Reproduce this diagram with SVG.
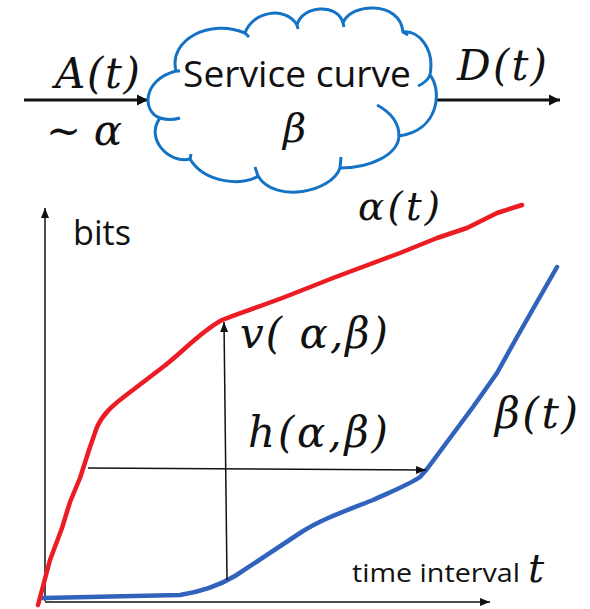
<svg xmlns="http://www.w3.org/2000/svg" width="590" height="609" viewBox="0 0 590 609">
<style>
.math{font-family:"DejaVu Serif","Liberation Serif",serif;font-style:italic;fill:#111}
.sans{font-family:"Open Sans","Noto Sans","Liberation Sans",sans-serif;fill:#111}
.cloud{fill:#fff;stroke:#1473c4;stroke-width:3;stroke-linejoin:round}
.hook{fill:none;stroke:#1473c4;stroke-width:3;stroke-linecap:butt}
.thick{stroke:#111;stroke-width:3;fill:none}
.thin{stroke:#111;stroke-width:1.5;fill:none}
.red{fill:none;stroke:#ec1c24;stroke-width:4.5;stroke-linejoin:round;stroke-linecap:round}
.blue{fill:none;stroke:#3163bc;stroke-width:4.5;stroke-linejoin:round;stroke-linecap:round}
</style>
<defs>
<marker id="ah" markerUnits="userSpaceOnUse" markerWidth="12" markerHeight="12" refX="11" refY="6" orient="auto" viewBox="0 0 12 12">
<path d="M0,0.5 L11,6 L0,11.5 z" fill="#111"/>
</marker>
<marker id="ahs" markerUnits="userSpaceOnUse" markerWidth="10" markerHeight="10" refX="10" refY="5" orient="auto" viewBox="0 0 10 10">
<path d="M0,1 L10,5 L0,9 z" fill="#111"/>
</marker>
</defs>

<g id="connectors">
<line id="input-arrow" class="thick" x1="24" y1="100" x2="148" y2="100" marker-end="url(#ah)"/>
<line id="output-arrow" class="thick" x1="437" y1="100" x2="560" y2="100" marker-end="url(#ah)"/>
</g>

<g id="service-curve">
<path class="cloud" d="M176,71 C168,40 210,18 245,33 C252,12 285,5 297,25 C302,5 338,3 343,23 C350,3 400,0 403,32 C418,30 435,48 430,75 C442,90 440,130 399,136 C398,155 370,168 340,168 C332,192 275,204 258,176 C245,186 205,184 190,159 C168,164 145,138 160,118 C142,112 142,80 176,71 Z"/>
<path class="hook" d="M430,75 Q427,82 418,86 M377,105 C390,112 399,122 399,136 M340,168 L341,157 M258,176 L255,167 M190,159 L191,154 M160,118 Q170,121 180,118 M245,33 L249,37 M297,25 L298,29 M343,23 L344,27 M403,32 L408,35 M176,71 L180,71"/>
<text class="sans" x="183" y="87" font-size="36" textLength="228" lengthAdjust="spacingAndGlyphs">Service curve</text>
<text class="math" x="283" y="142" font-size="40">β</text>
</g>

<g id="labels-top">
<text class="math" x="55" y="88" font-size="42" textLength="85" lengthAdjust="spacing">A(t)</text>
<text class="math" x="46" y="145" font-size="42" textLength="76" lengthAdjust="spacing"><tspan font-style="normal">∼</tspan> α</text>
<text class="math" x="457" y="80" font-size="42" textLength="90" lengthAdjust="spacing">D(t)</text>
</g>

<g id="chart">
<line id="y-axis" class="thin" x1="45" y1="601" x2="45" y2="208" marker-end="url(#ahs)"/>
<line id="x-axis" class="thin" x1="45" y1="602" x2="490" y2="602" marker-end="url(#ahs)"/>
<path id="beta-curve" class="blue" d="M43,598 L180,595 C205,591 220,585 235,576 L300,533 C320,520 340,513 373,500 C395,490 410,484 420,477 L427,469 L473,407 L497,373 L517,337 L557,267"/>
<path id="alpha-curve" class="red" d="M38,605 L50,560 L62,528 L70,502 L80,478 L90,447 L97,427 C103,414 112,406 125,396 L163,367 C185,350 200,332 222,320 C245,311 270,303 290,295 L333,278 L400,253 L437,238 L467,228 L497,213 L522,205"/>
<line id="v-arrow" class="thin" x1="227" y1="580" x2="224" y2="322" marker-end="url(#ahs)"/>
<line id="h-arrow" class="thin" x1="88" y1="468" x2="426" y2="470" marker-end="url(#ahs)"/>
<text class="sans" x="73" y="245" font-size="35" textLength="58" lengthAdjust="spacingAndGlyphs">bits</text>
<text class="math" x="358" y="220" font-size="39" textLength="82" lengthAdjust="spacing">α(t)</text>
<text class="math" x="240" y="348" font-size="42" textLength="148" lengthAdjust="spacing">v( α,β)</text>
<text class="math" x="248" y="447" font-size="42" textLength="140" lengthAdjust="spacing">h(α,β)</text>
<text class="math" x="495" y="428" font-size="43" textLength="83" lengthAdjust="spacing">β(t)</text>
<text class="sans" x="352" y="582" font-size="25" textLength="168" lengthAdjust="spacingAndGlyphs">time interval</text>
<text class="math" x="528" y="582" font-size="40">t</text>
</g>
</svg>
